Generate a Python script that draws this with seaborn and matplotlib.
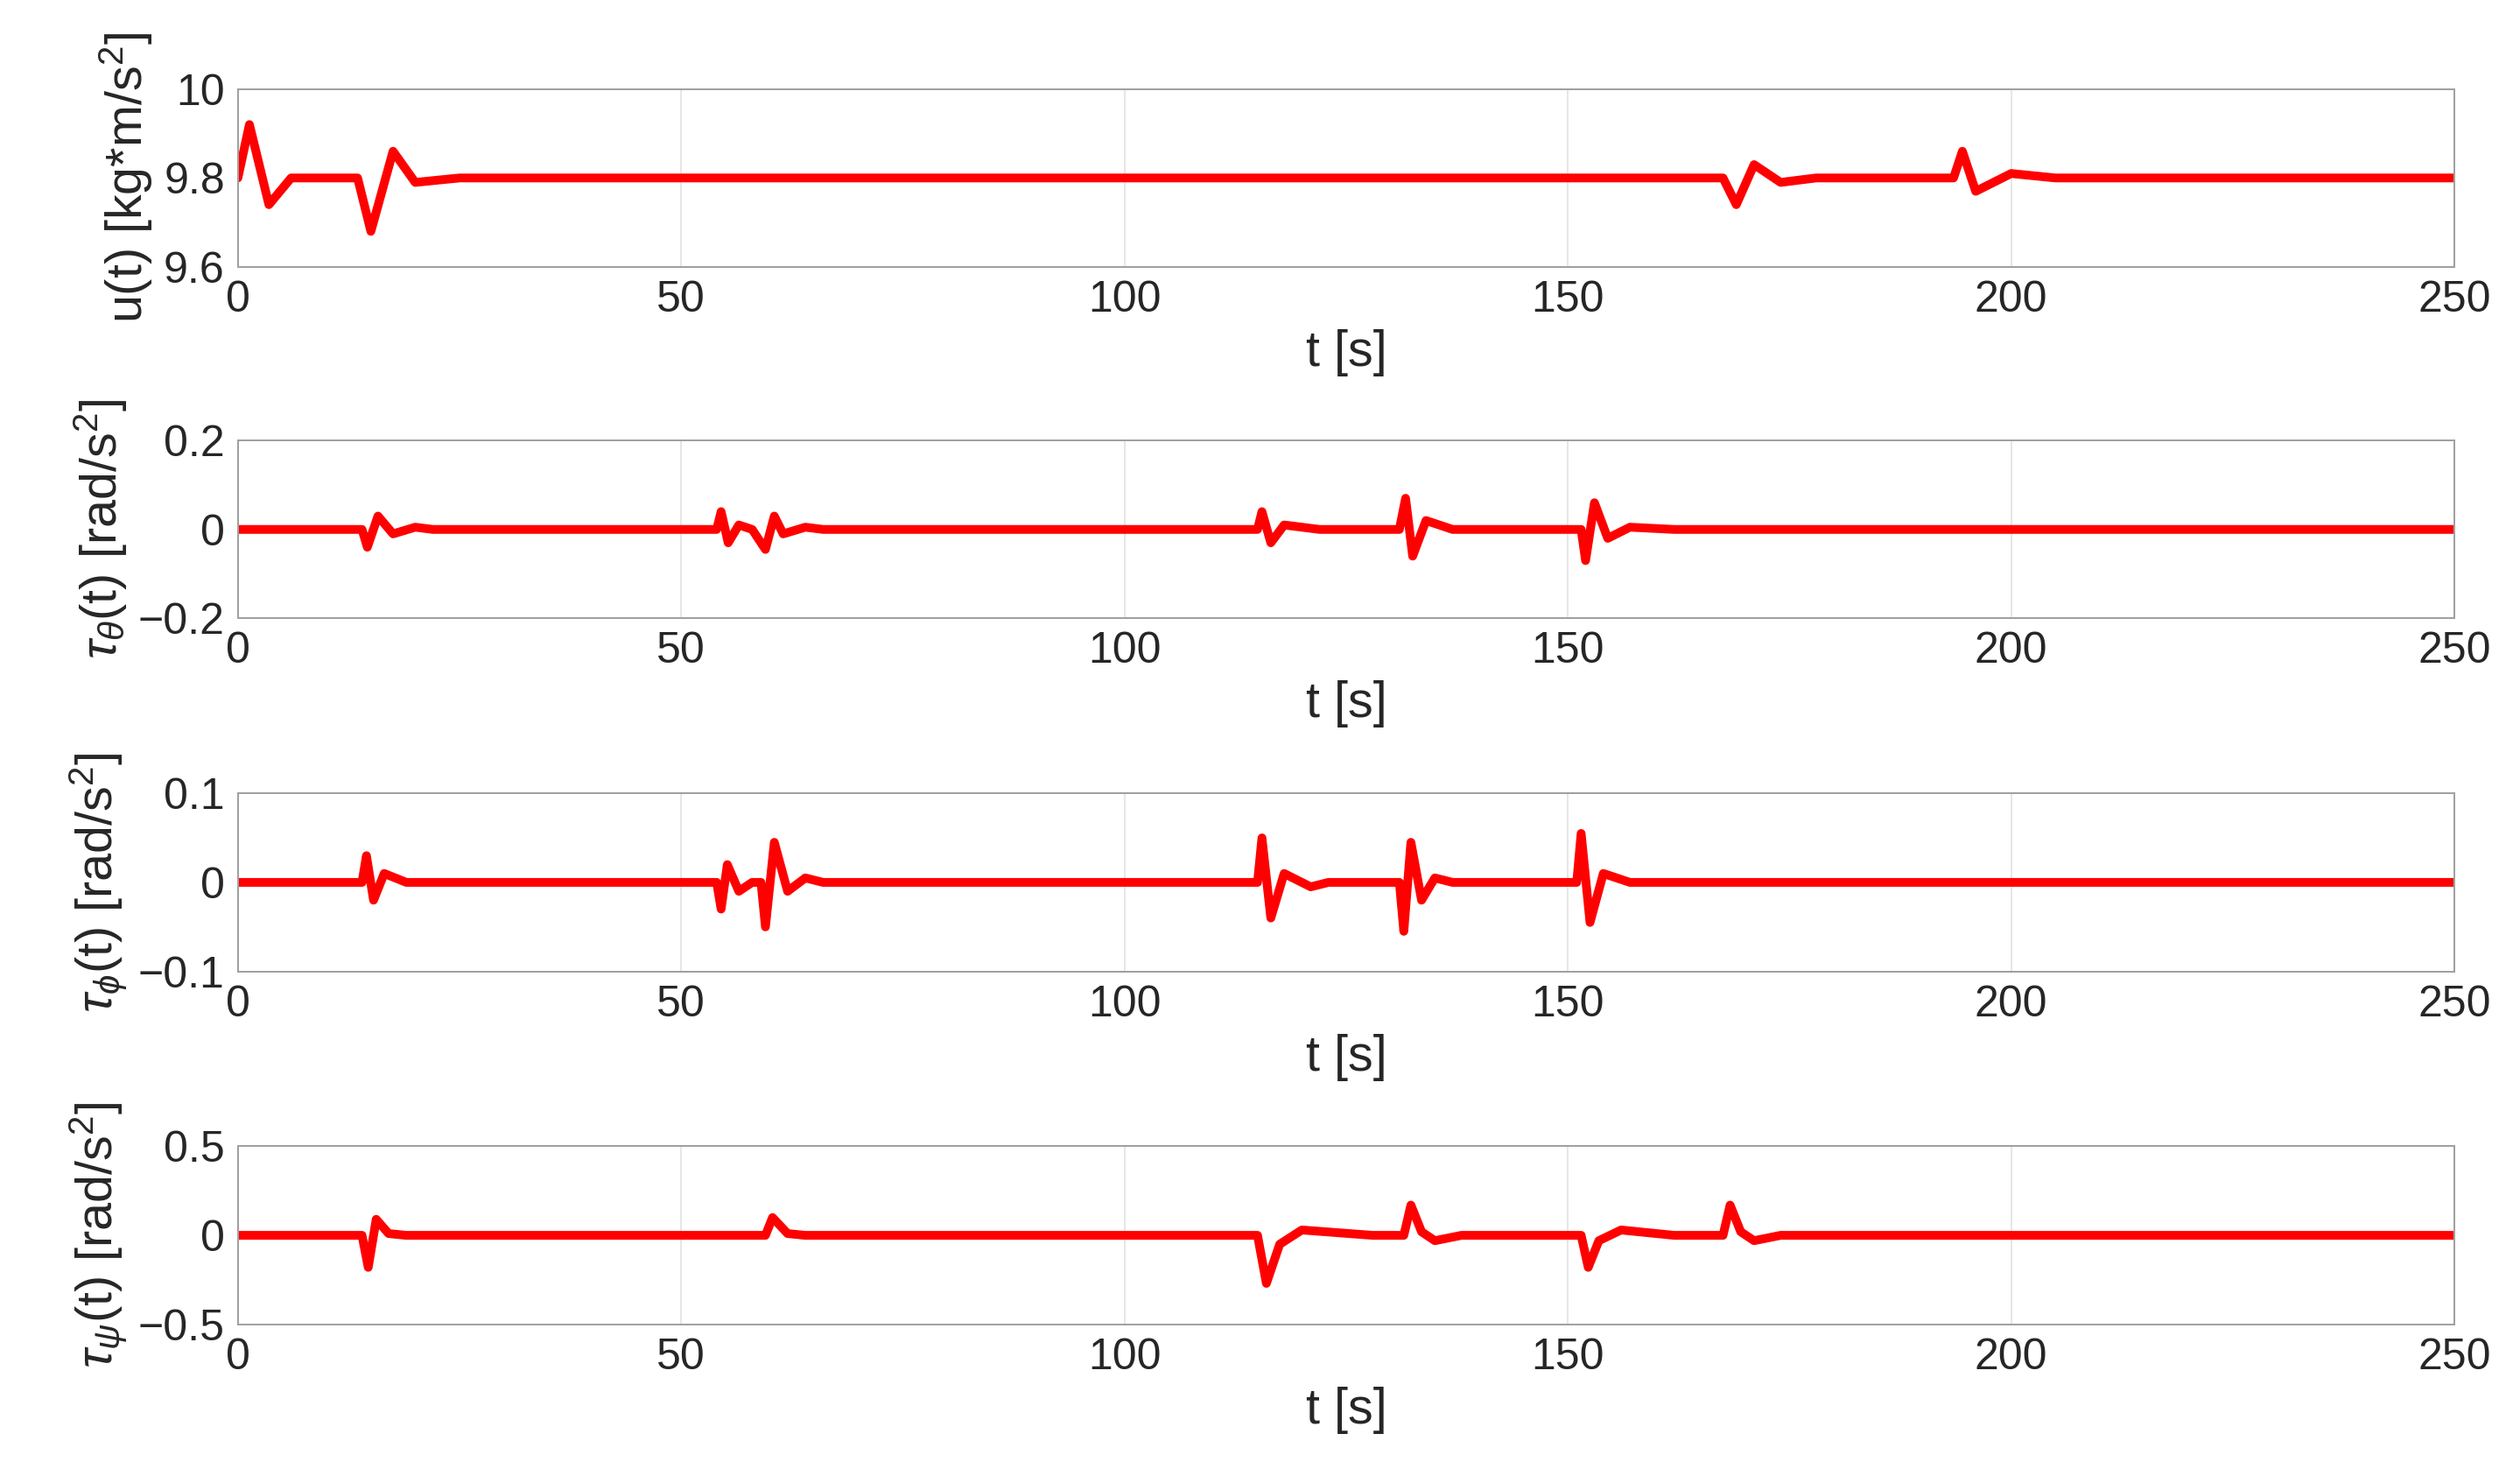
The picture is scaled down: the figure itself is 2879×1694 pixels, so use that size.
import matplotlib
matplotlib.use("Agg")
import matplotlib.pyplot as plt
import seaborn as sns
import pandas as pd

# keypoints (t [s], value)
u_t = [0, 1.3, 3.5, 6, 13.5, 15, 17.5, 20, 25, 167.5, 169, 171, 174, 178, 193.5, 194.5, 196, 200, 205, 250]
u_v = [9.80, 9.92, 9.74, 9.80, 9.80, 9.68, 9.86, 9.79, 9.80, 9.80, 9.74, 9.83, 9.79, 9.80, 9.80, 9.86, 9.77, 9.81, 9.80, 9.80]

th_t = [0, 14, 14.6, 15.8, 17.5, 20, 22, 54, 54.5, 55.3, 56.5, 58, 59.5, 60.5, 61.5, 64, 66,
        115, 115.5, 116.5, 118, 122, 131, 131.7, 132.5, 134, 137, 151.5, 152, 153, 154.5, 157, 162, 250]
th_v = [0, 0, -0.04, 0.03, -0.01, 0.005, 0, 0, 0.04, -0.03, 0.01, 0, -0.045, 0.03, -0.01, 0.005, 0,
        0, 0.04, -0.03, 0.01, 0, 0, 0.07, -0.06, 0.02, 0, 0, -0.07, 0.06, -0.02, 0.005, 0, 0]

ph_t = [0, 14, 14.5, 15.3, 16.5, 19, 54, 54.5, 55.2, 56.5, 58, 59, 59.5, 60.5, 62, 64, 66,
        115, 115.5, 116.5, 118, 121, 123, 131, 131.5, 132.3, 133.5, 135, 137, 151, 151.5, 152.5, 154, 157, 250]
ph_v = [0, 0, 0.03, -0.02, 0.01, 0, 0, -0.03, 0.02, -0.01, 0, 0, -0.05, 0.045, -0.01, 0.005, 0,
        0, 0.05, -0.04, 0.01, -0.005, 0, 0, -0.055, 0.045, -0.02, 0.005, 0, 0, 0.055, -0.045, 0.01, 0, 0]

ps_t = [0, 14, 14.7, 15.6, 17, 19, 59.5, 60.3, 62, 64, 115, 116, 117.5, 120, 128,
        131.5, 132.3, 133.5, 135, 138, 151.5, 152.3, 153.5, 156, 162, 167.5, 168.3, 169.5, 171, 174, 250]
ps_v = [0, 0, -0.18, 0.09, 0.01, 0, 0, 0.1, 0.01, 0, 0, -0.27, -0.05, 0.03, 0,
        0, 0.17, 0.02, -0.03, 0, 0, -0.18, -0.03, 0.03, 0, 0, 0.17, 0.02, -0.03, 0, 0]

series = [
    (u_t, u_v, r"u(t) [kg*m/s$^2$]", (9.6, 10), [9.6, 9.8, 10], ["9.6", "9.8", "10"]),
    (th_t, th_v, r"$\tau_\theta$(t) [rad/s$^2$]", (-0.2, 0.2), [-0.2, 0, 0.2], ["\u22120.2", "0", "0.2"]),
    (ph_t, ph_v, r"$\tau_\phi$(t) [rad/s$^2$]", (-0.1, 0.1), [-0.1, 0, 0.1], ["\u22120.1", "0", "0.1"]),
    (ps_t, ps_v, r"$\tau_\psi$(t) [rad/s$^2$]", (-0.5, 0.5), [-0.5, 0, 0.5], ["\u22120.5", "0", "0.5"]),
]

sns.set_style("white")
plt.rcParams["font.family"] = ["Liberation Sans", "DejaVu Sans"]
plt.rcParams["mathtext.fontset"] = "custom"
plt.rcParams["mathtext.rm"] = "Liberation Sans"
plt.rcParams["mathtext.it"] = "Liberation Sans:italic"

fig = plt.figure(figsize=(2879 / 180, 1694 / 180), dpi=180)
tops = [0.940, 0.703, 0.465, 0.227]
h = 0.120
for (t, v, lab, yl, yt, ytl), top in zip(series, tops):
    ax = fig.add_axes([0.0944, top - h, 0.8796, h])
    df = pd.DataFrame({"t": t, "v": v})
    sns.lineplot(data=df, x="t", y="v", ax=ax, color="#ff0000", linewidth=4.0)
    ax.set_xlim(0, 250)
    ax.set_ylim(*yl)
    ax.set_xticks([0, 50, 100, 150, 200, 250])
    ax.set_yticks(yt)
    ax.set_yticklabels(ytl)
    ax.tick_params(labelsize=20, colors="#262626", direction="in", length=4, pad=6)
    ax.grid(axis="x", color="#e6e6e6", linewidth=0.8)
    ax.set_xlabel("t [s]", fontsize=23, color="#262626", labelpad=4)
    ax.set_ylabel(lab, fontsize=23, color="#262626", labelpad=4)
    for s in ax.spines.values():
        s.set_color("#a0a0a0")
        s.set_linewidth(0.8)

fig.savefig("out.png", dpi=180, facecolor="white")
